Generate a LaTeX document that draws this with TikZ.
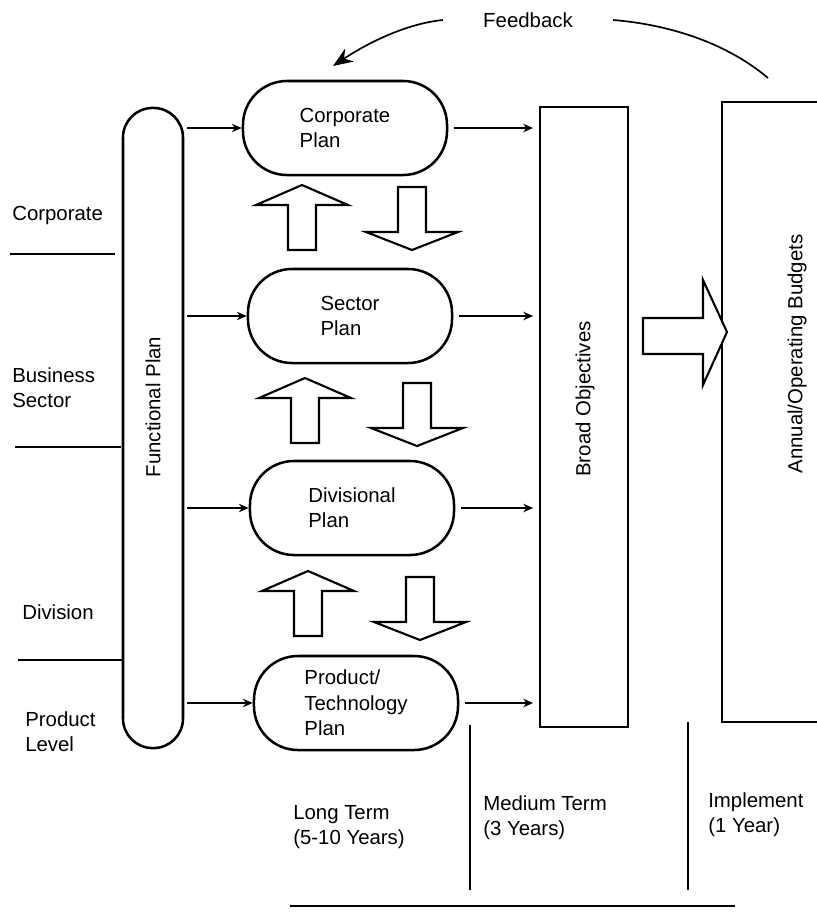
\documentclass[tikz,border=0pt]{standalone}
\usepackage{fontspec}
\setmainfont{Liberation Sans}
\usetikzlibrary{arrows.meta}

\tikzset{
  plan/.style={draw, line width=1.8pt, rounded corners=1.1cm, minimum width=5.1cm, minimum height=2.35cm, align=left},
  tallbox/.style={draw, line width=1.8pt, minimum width=2.2cm, minimum height=15.5cm},
  sidetext/.style={align=left, anchor=west, inner sep=0pt},
  flow/.style={line width=1pt, -{Stealth[length=7pt,width=6pt]}},
  blockarrow/.style={draw, fill=white, line width=1.5pt, line join=miter},
  divider/.style={line width=1.8pt}
}

\begin{document}
\begin{tikzpicture}[x=0.025cm, y=-0.025cm, font=\fontsize{14.5}{18}\selectfont]
    \clip (0,0) rectangle (817,916);

    % functional plan column
    \node[draw, line width=1.8pt, rounded corners=0.74cm, minimum width=1.5cm, minimum height=16cm] (fp) at (153,428) {};
    \node[rotate=90] (fptext) at (153,407) {Functional Plan};

    % the four plans
    \node[plan] (corp) at (345,128) {Corporate\\Plan};
    \node[plan] (sect) at (350,316) {Sector\\Plan};
    \node[plan] (divi) at (352,508) {Divisional\\Plan};
    \node[plan] (prod) at (356,703) {Product/\\Technology\\Plan};

    % objectives and budgets
    \node[tallbox] (bo) at (584,417) {};
    \node[rotate=90] (botext) at (585,399) {Broad Objectives};
    \node[tallbox, minimum width=3.7cm] (bud) at (796,412) {};
    \node[rotate=90] (budtext) at (797,354) {Annual/Operating Budgets};

    \foreach \p in {corp,sect,divi,prod} {
        \draw[flow, shorten <=2pt] (fp.east |- \p.west) -- (\p.west);
        \draw[flow, shorten <=4pt, shorten >=4pt] (\p.east) -- (bo.west |- \p.east);
    }

    % up and down block arrows
    \foreach \x/\y in {302/185, 305/378, 308/571}
        \draw[blockarrow] (\x,\y) -- ++(46,20) -- ++(-32,0) -- ++(0,45) -- ++(-28,0) -- ++(0,-45) -- ++(-32,0) -- cycle;
    \foreach \x/\y in {412/250, 417/446, 420/640}
        \draw[blockarrow] (\x,\y) -- ++(46,-18) -- ++(-32,0) -- ++(0,-45) -- ++(-28,0) -- ++(0,45) -- ++(-32,0) -- cycle;

    \draw[blockarrow] (727,332) -- (703,280) -- (703,318) -- (643,318) -- (643,354) -- (703,354) -- (703,385) -- cycle;

    % feedback
    \node[inner xsep=1cm] (fb) at (528,20) {Feedback};
    \coordinate (fbstart) at (768,78);
    \coordinate (fbend) at (333,66);
    \draw[line width=1.2pt] (fbstart) .. controls +(-45,-38) and +(50,4) .. (fb.east);
    \draw[line width=1.2pt, -{Stealth[length=14pt,width=11pt]}] (fb.west) .. controls +(-40,4) and +(30,-20) .. (fbend);

    % levels on the left
    \node[sidetext] (lcorp) at (12,215) {Corporate};
    \node[sidetext] (lbus) at (12,388) {Business\\Sector};
    \node[sidetext] (ldiv) at (22,612) {Division};
    \node[sidetext] (lprod) at (25,732) {Product\\Level};
    \draw[divider] (10,254) -- (115,254);
    \draw[divider] (15,447) -- (121,447);
    \draw[divider] (18,660) -- (123,660);

    % time spans
    \draw[divider] (470,725) -- (470,890);
    \draw[divider] (688,722) -- (688,890);
    \draw[line width=1.3pt] (290,906) -- (735,906);
    \node[sidetext] (lt) at (293,827) {Long Term\\(5-10 Years)};
    \node[sidetext] (mt) at (483,818) {Medium Term\\(3 Years)};
    \node[sidetext] (im) at (708,815) {Implement\\(1 Year)};
\end{tikzpicture}
\end{document}
